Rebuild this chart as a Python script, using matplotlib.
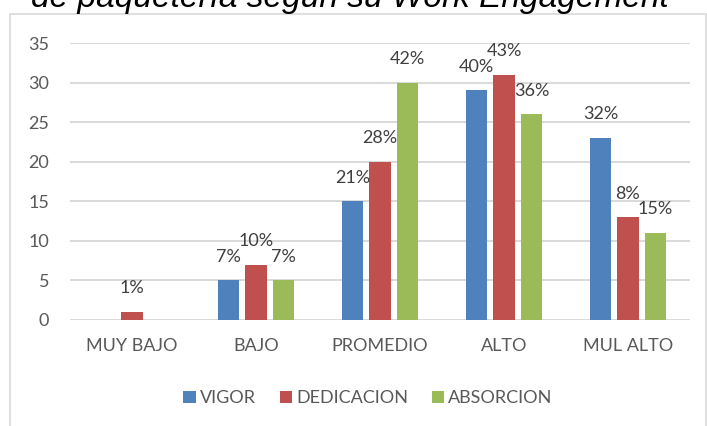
import matplotlib
matplotlib.use("Agg")
import matplotlib.pyplot as plt
from matplotlib.patches import Rectangle
import numpy as np

categories = ["MUY BAJO", "BAJO", "PROMEDIO", "ALTO", "MUL ALTO"]
series_names = ["VIGOR", "DEDICACION", "ABSORCION"]
vigor = [0, 5, 15, 29, 23]
dedicacion = [1, 7, 20, 31, 13]
absorcion = [0, 5, 30, 26, 11]
vigor_labels = ["", "7%", "21%", "40%", "32%"]
dedicacion_labels = ["1%", "10%", "28%", "43%", "8%"]
absorcion_labels = ["", "7%", "42%", "36%", "15%"]
title_text = "de paquetería según su Work Engagement"
yticks = [0, 5, 10, 15, 20, 25, 30, 35]

colors = ["#4f81bd", "#c0504d", "#9bbb59"]
FONT = "Lato"
TXT = "#595959"
FS = 13

W, H = 707, 426
fig = plt.figure(figsize=(W / 100, H / 100), dpi=100)

# chart border
fig.patches.append(Rectangle((10 / W, -0.05), (706 - 10) / W, 1 - 14 / H + 0.05,
                             transform=fig.transFigure, fill=False,
                             edgecolor="#d9d9d9", linewidth=1.2))

fig.text(31 / W, 1 - 7 / H, title_text, fontsize=24, style="italic",
         family="Liberation Sans", va="baseline", ha="left", color="black")

ax = fig.add_axes([70 / W, 1 - 320 / H, (690 - 70) / W, (320 - 43) / H])
x = np.arange(len(categories))
step = 0.222
width = 0.175
all_vals = [vigor, dedicacion, absorcion]
all_labels = [vigor_labels, dedicacion_labels, absorcion_labels]
for i, (vals, labs, name) in enumerate(zip(all_vals, all_labels, series_names)):
    xs = x + (i - 1) * step
    ax.bar(xs, vals, width=width, color=colors[i], label=name, zorder=3)
    for xi, v, lab in zip(xs, vals, labs):
        if lab:
            ax.annotate(lab, (xi, v), xytext=(0, 17), textcoords="offset points",
                        ha="center", va="center", fontsize=FS, family=FONT,
                        color="#404040", zorder=4)

ax.set_xlim(-0.5, len(categories) - 0.5)
ax.set_ylim(0, 35)
ax.set_yticks(yticks)
ax.set_xticks(x)
ax.set_xticklabels(categories)
ax.grid(axis="y", color="#d9d9d9", linewidth=1.4, zorder=0)
ax.set_axisbelow(True)
for s in ax.spines.values():
    s.set_visible(False)
ax.tick_params(axis="both", length=0, labelsize=FS, labelcolor=TXT)
ax.tick_params(axis="y", pad=15)
ax.tick_params(axis="x", pad=13)
for lbl in ax.get_xticklabels() + ax.get_yticklabels():
    lbl.set_family(FONT)

handles, labels = ax.get_legend_handles_labels()
fig.legend(handles, labels, loc="center", bbox_to_anchor=(368 / W, 1 - 398 / H),
           ncol=3, frameon=False, handlelength=0.67, handleheight=0.67,
           handletextpad=0.25, columnspacing=1.3,
           prop={"family": FONT, "size": FS}, labelcolor=TXT)

fig.savefig("out.png", dpi=100)
